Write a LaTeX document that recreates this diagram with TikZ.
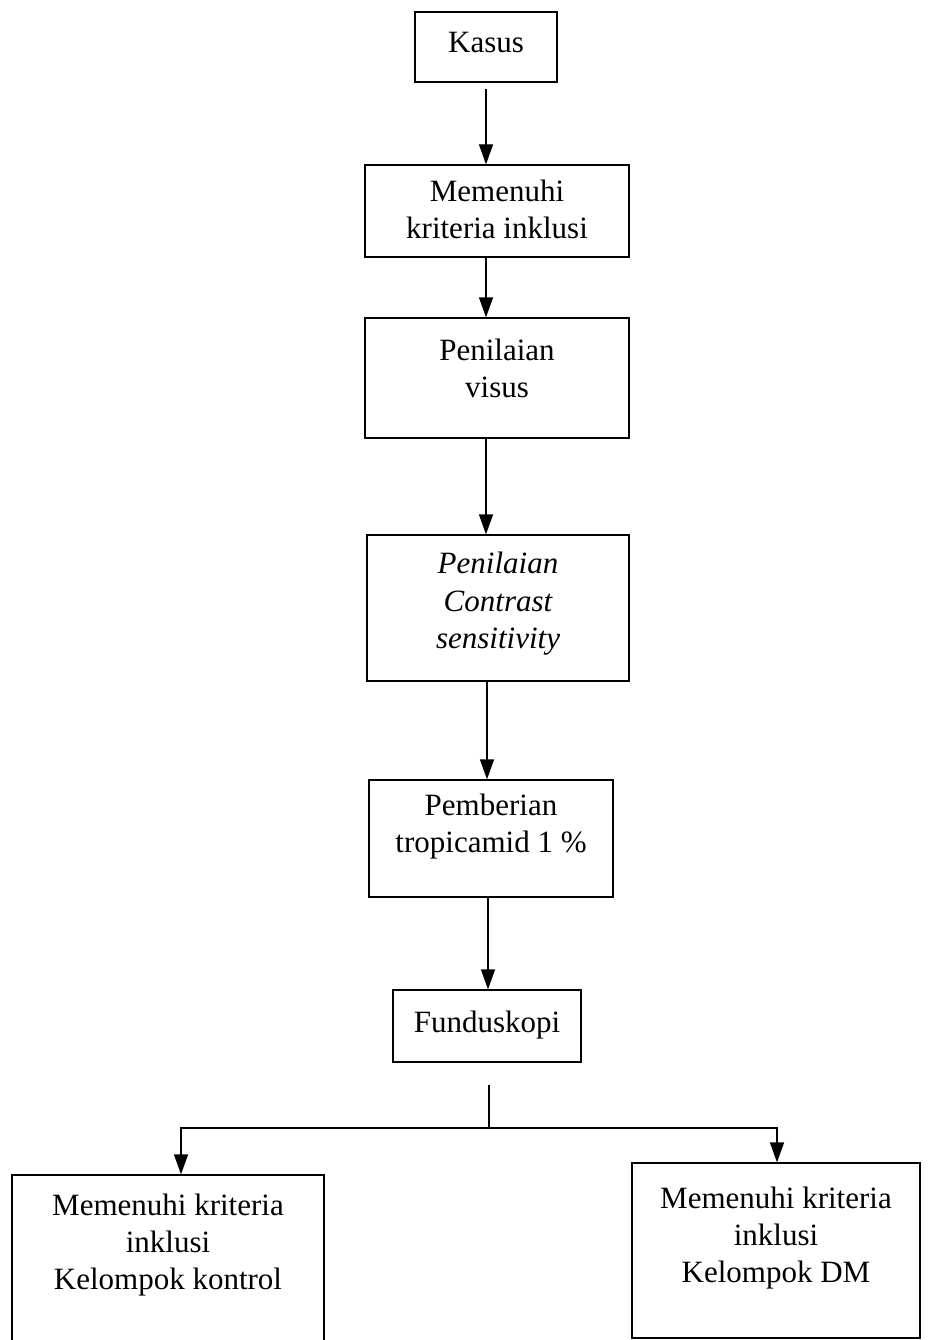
\documentclass[tikz,border=0pt]{standalone}
\usepackage{fontspec}
\setmainfont{Liberation Serif}
\usetikzlibrary{arrows.meta,calc}
\begin{document}
\begin{tikzpicture}[x=1pt,y=-1pt,
  box/.style={draw,line width=1.3pt,inner sep=0pt},
  txt/.style={align=center,font=\fontsize{31}{37}\selectfont,inner sep=0pt},
  ln/.style={line width=1.3pt},
  arr/.style={line width=1.3pt,-{Triangle[length=20pt,width=14pt]}}]
\fill[white,use as bounding box] (0,0) rectangle (931,1340);
% boxes
\node[box,minimum width=142pt,minimum height=70pt] (b1) at (486,47) {};
\node[box,minimum width=264pt,minimum height=92pt] (b2) at (497,211) {};
\node[box,minimum width=264pt,minimum height=120pt] (b3) at (497,378) {};
\node[box,minimum width=262pt,minimum height=146pt] (b4) at (498,608) {};
\node[box,minimum width=244pt,minimum height=117pt] (b5) at (491,838.5) {};
\node[box,minimum width=188pt,minimum height=72pt] (b6) at (487,1026) {};
\node[box,minimum width=312pt,minimum height=172pt] (b7) at (168,1261) {};
\node[box,minimum width=288pt,minimum height=175pt] (b8) at (776,1250.5) {};
% texts
\node[txt] (t1) at (486,43) {Kasus};
\node[txt] (t2) at (497,209) {Memenuhi\\kriteria inklusi};
\node[txt] (t3) at (497,368) {Penilaian\\visus};
\node[txt,font=\fontsize{31}{37.5}\selectfont\itshape] (t4) at (498,604) {Penilaian\\Contrast\\sensitivity};
\node[txt] (t5) at (491,827) {Pemberian\\tropicamid 1 \%};
\node[txt] (t6) at (487,1025) {Funduskopi};
\node[txt] (t7) at (168,1245) {Memenuhi kriteria\\inklusi\\Kelompok kontrol};
\node[txt] (t8) at (776,1238) {Memenuhi kriteria\\inklusi\\Kelompok DM};
% connectors
\draw[arr,shorten <=6pt] (b1.south) -- (b1.south |- b2.north);
\draw[arr] (b2.south -| b1.south) -- (b3.north -| b1.south);
\draw[arr] (b3.south -| b1.south) -- (b4.north -| b1.south);
\draw[arr] ($(b4.south -| b1.south)+(1,0)$) -- ($(b5.north -| b1.south)+(1,0)$);
\draw[arr] ($(b5.south -| b1.south)+(2,0)$) -- ($(b6.north -| b1.south)+(2,0)$);
\coordinate (fstart) at (489,1085);
\coordinate (split) at (489,1128);
\coordinate (lturn) at (181,1128);
\coordinate (rturn) at (777,1128);
\draw[ln] (fstart) -- (split);
\draw[arr] (split) -- (lturn) -- (lturn |- b7.north);
\draw[arr] (split) -- (rturn) -- (rturn |- b8.north);
\end{tikzpicture}
\end{document}
